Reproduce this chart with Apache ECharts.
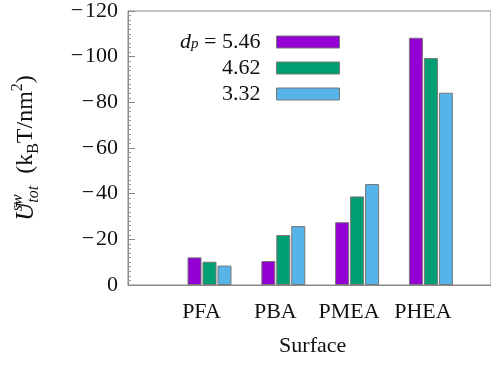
<!DOCTYPE html>
<html><head><meta charset="utf-8">
<script src="https://cdn.jsdelivr.net/npm/echarts@6/dist/echarts.min.js"></script>
<style>html,body{margin:0;padding:0;background:#fff}#c{width:491px;height:365px}</style>
</head><body><div id="c"></div>
<script>
var categories = ['PFA', 'PBA', 'PMEA', 'PHEA'];
var seriesNames = ['5.46', '4.62', '3.32'];
var dp546 = [-12.1, -10.5, -27.5, -108.3];
var dp462 = [-10.2, -21.9, -38.8, -99.4];
var dp332 = [-8.5, -25.8, -44.2, -84.2];
var yTicks = [-120, -100, -80, -60, -40, -20, 0];

var F = '"Liberation Serif", "Times New Roman", serif';
var colors = ['#9400D3', '#009E73', '#56B4E9'];
var chart = echarts.init(document.getElementById('c'), null, {renderer: 'canvas'});
function mkSeries(name, data, i) {
  return {
    name: name, type: 'bar', xAxisIndex: 1, yAxisIndex: 1, data: data,
    barWidth: 14, barGap: '7%',
    itemStyle: {color: colors[i], borderColor: '#777', borderWidth: 1},
    emphasis: {disabled: true}
  };
}
chart.setOption({
  animation: false,
  textStyle: {fontFamily: F},
  grid: [
    {left: 128, top: 11, right: -20, bottom: 80, show: true, borderColor: '#888', borderWidth: 1, containLabel: false},
    {left: 172.6, top: 11, right: 23.2, bottom: 80, containLabel: false}
  ],
  legend: {
    orient: 'vertical', right: 151, top: 31, align: 'right', padding: 0,
    itemWidth: 63, itemHeight: 12, itemGap: 4,
    icon: 'rect',
    data: seriesNames,
    formatter: function (n) { return n === seriesNames[0] ? '{i|d}{s|p} = ' + n : n; },
    textStyle: {fontFamily: F, fontSize: 22, color: '#111', lineHeight: 20, padding: [0, 11, 0, 0],
      rich: {
        i: {fontFamily: F, fontSize: 22, fontStyle: 'italic', color: '#111', lineHeight: 20, verticalAlign: 'middle'},
        s: {fontFamily: F, fontSize: 15, fontStyle: 'italic', color: '#111', lineHeight: 20, verticalAlign: 'bottom', padding: [6, 0, 0, 0]}
      }
    },
    itemStyle: {borderColor: '#777', borderWidth: 1}
  },
  xAxis: [
    {gridIndex: 0, type: 'value', min: 0, max: 1, axisLabel: {show: false}, axisTick: {show: false}, splitLine: {show: false},
     axisLine: {show: true, lineStyle: {color: '#888'}}},
    {gridIndex: 1, type: 'category', data: categories,
     axisLine: {show: false}, axisTick: {show: false},
     axisLabel: {interval: 0, hideOverlap: false, fontFamily: F, fontSize: 22, color: '#111', margin: 16, padding: [0, 16, 0, 0]},
     name: 'Surface', nameLocation: 'middle', nameGap: 50,
     nameTextStyle: {fontFamily: F, fontSize: 22, color: '#111', padding: [0, 15, 0, 0]}}
  ],
  yAxis: [
    {gridIndex: 0, type: 'value', inverse: true, min: yTicks[0], max: yTicks[yTicks.length - 1], interval: 20,
     axisLine: {show: true, lineStyle: {color: '#888'}},
     axisTick: {show: true, inside: true, length: 7, lineStyle: {color: '#888'}},
     minorTick: {show: true, splitNumber: 10, length: 3, lineStyle: {color: '#999'}},
     splitLine: {show: false},
     axisLabel: {fontFamily: F, fontSize: 22, color: '#111', margin: 10,
       formatter: function (v) { return String(v).replace('-', '\u2212\u200A'); }},
     name: '{i|U}{sup|sw}{sub|tot}  {n|(k}{sb|B}{n|T/nm}{sp|2}{n|)}', nameLocation: 'middle', nameGap: 86,
     nameTextStyle: {fontFamily: F, fontSize: 24, color: '#111',
       rich: {
         n: {fontFamily: F, fontSize: 24, color: '#111', lineHeight: 32, verticalAlign: 'middle'},
         i: {fontFamily: F, fontSize: 25, fontStyle: 'italic', color: '#111', lineHeight: 32, verticalAlign: 'middle'},
         sup: {fontFamily: F, fontSize: 16, fontStyle: 'italic', color: '#111', lineHeight: 32, verticalAlign: 'top', width: 0, align: 'left'},
         sub: {fontFamily: F, fontSize: 16, fontStyle: 'italic', color: '#111', lineHeight: 32, verticalAlign: 'bottom'},
         sb: {fontFamily: F, fontSize: 16, color: '#111', lineHeight: 32, verticalAlign: 'bottom'},
         sp: {fontFamily: F, fontSize: 16, color: '#111', lineHeight: 32, verticalAlign: 'top'}
       }}},
    {gridIndex: 1, type: 'value', inverse: true, min: yTicks[0], max: yTicks[yTicks.length - 1], interval: 20, show: false}
  ],
  series: [mkSeries(seriesNames[0], dp546, 0), mkSeries(seriesNames[1], dp462, 1), mkSeries(seriesNames[2], dp332, 2)]
});
</script></body></html>
